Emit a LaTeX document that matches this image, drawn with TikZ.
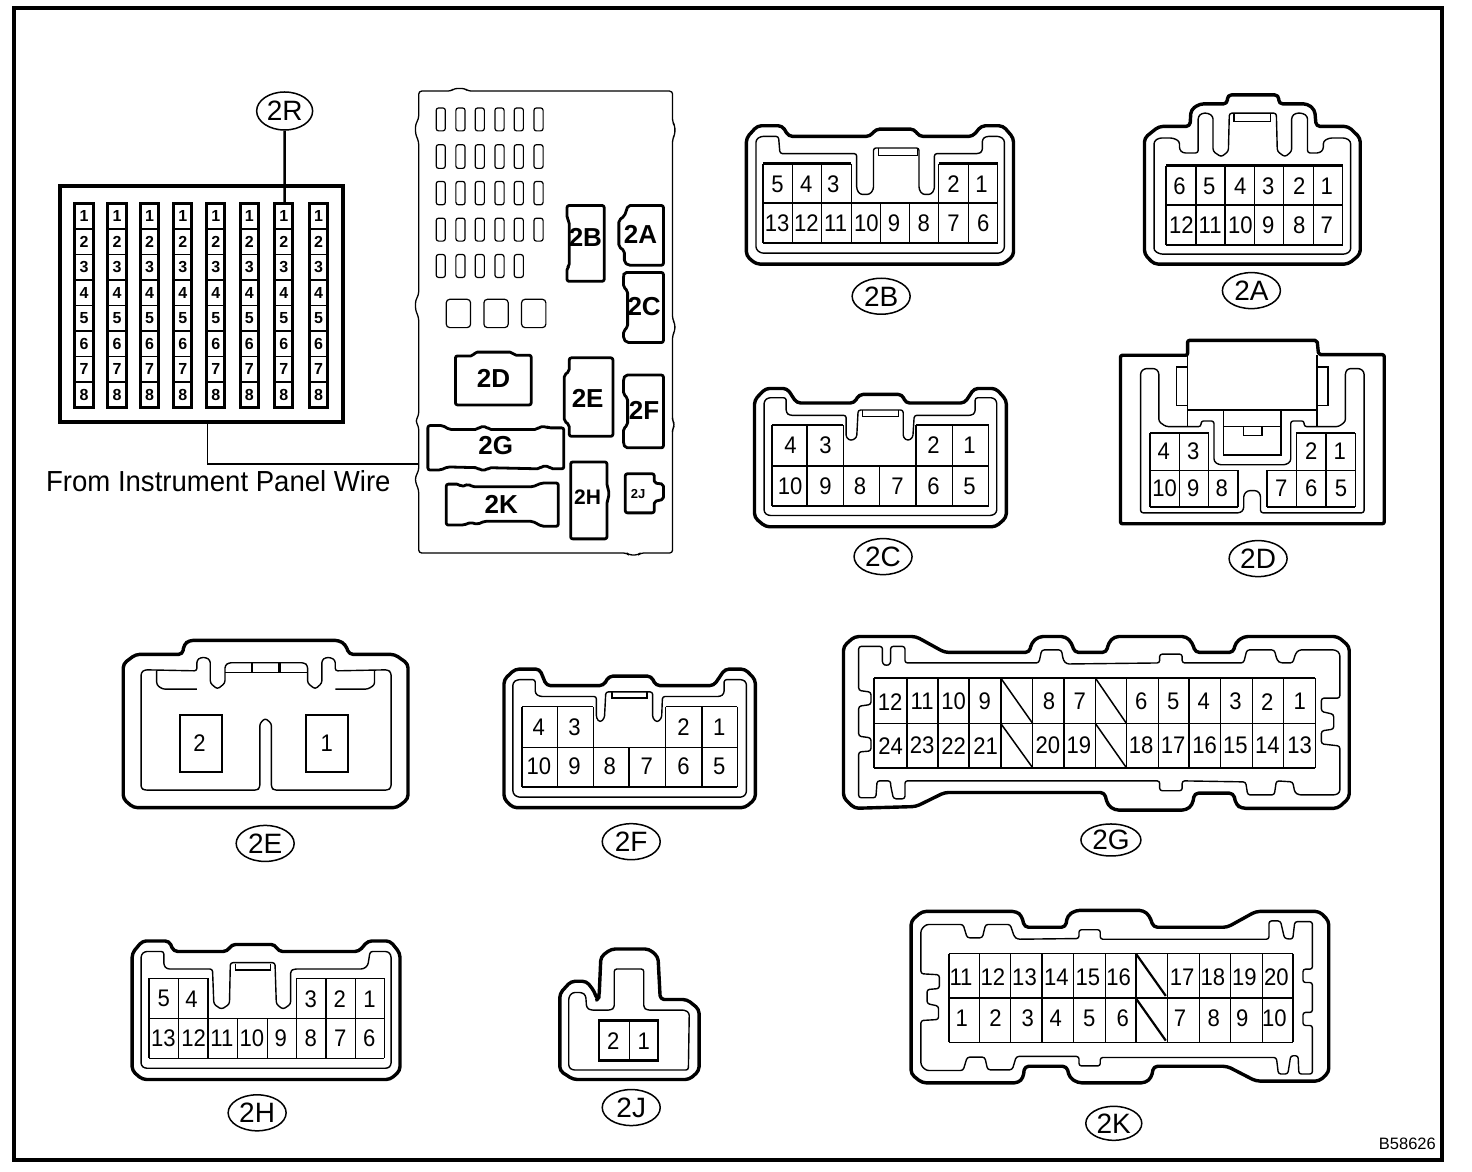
\documentclass[tikz,border=0pt]{standalone}
\usepackage{fontspec}
\usetikzlibrary{shapes.geometric}
\setmainfont{Liberation Sans}
\newfontfamily\pinfont[FakeStretch=0.92]{Liberation Sans}
\newfontfamily\wirefont[FakeStretch=0.95]{Liberation Sans}
\newcommand{\fsz}[1]{\fontsize{#1}{#1}\selectfont}
\tikzset{
  zone1/.style={shift={(0,0)},xscale=1/2.178,yscale=1/2.613},
  zone2/.style={shift={(720,80)},xscale=1/2.085,yscale=1/3.015},
  zone3/.style={shift={(100,620)},xscale=1/2.24,yscale=1/2.851},
  zone4/.style={shift={(830,620)},xscale=1/2.442,yscale=1/2.841},
  shell/.style={line width=3.4pt,line join=round,rounded corners=4pt},
  liner/.style={line width=1.4pt,line join=round,rounded corners=2.5pt},
  cellline/.style={line width=1.5pt},
  cellbold/.style={line width=2.2pt},
  pinlabel/.style={inner sep=0pt,font=\pinfont\fsz{24}},
  fusepin/.style={inner sep=0pt,font=\bfseries\fsz{16}},
  tag/.style={draw,ellipse,line width=1.5pt,inner sep=0pt,minimum width=58pt,minimum height=36pt,font=\fsz{28}},
  minibox/.style={line width=2.8pt,line join=round,rounded corners=2pt},
  minitext/.style={inner sep=0pt,font=\bfseries\fsz{26}},
  slot/.style={line width=1.2pt,rounded corners=2.5pt},
}
\newcommand{\pinrow}[3]{\foreach \x/\t in {#3}{\node[pinlabel] (#1-\t) at (\x,#2) {\t};}}
\newcommand{\vlines}[3]{\foreach \x in {#3}{\draw[cellline] (\x,#1) -- (\x,#2);}}
\begin{document}
\begin{tikzpicture}[x=1pt,y=-1pt]
\useasboundingbox (0,0) rectangle (1472,1172);
\fill[white] (0,0) rectangle (1472,1172);
\draw[line width=4.5pt] (14,8) rectangle (1442,1160);

%% ---------- left part ----------
\begin{scope}[zone1]
  \draw[line width=3.8pt] (130,487) rectangle (747,1103);
  \foreach \cx/\c in {183/a,255/b,326/c,398/d,470/e,543/f,618/g,694/h}{
    \draw[line width=3pt] (\cx-20,532) rectangle (\cx+20,1065);
    \foreach \n in {1,...,7}{\draw[cellline] (\cx-20,532+66.6*\n) -- (\cx+20,532+66.6*\n);}
    \foreach \n in {1,...,8}{\node[fusepin] (f\c-\n) at (\cx,498+66.6*\n) {\n};}
  }
  \node[tag,minimum width=56pt,minimum height=38pt] (tag2R) at (620,290) {2R};
  \coordinate (r7) at (620,532);
  \coordinate (wirestart) at (452,1103);
  \coordinate (wireend) at (912,1212);
  \draw[line width=2.6pt] (tag2R) -- (r7);
  \draw[line width=1.5pt] (wirestart) |- (wireend);
  \node[inner sep=0pt,anchor=west,font=\wirefont\fsz{29}] (wirelabel) at (100,1258) {From Instrument Panel Wire};

  % fuse box outline
  \draw[line width=1.3pt,rounded corners=3pt]
    (928,238) -- (982,238) -- (990,231) -- (1012,231) -- (1020,238) -- (1465,238)
    -- (1465,320) -- (1470,328) -- (1470,352) -- (1465,362) -- (1465,835) -- (1470,845)
    -- (1470,865) -- (1465,875) -- (1465,1100) -- (1470,1110) -- (1465,1120) -- (1465,1445)
    -- (1395,1445) -- (1390,1450) -- (1370,1450) -- (1365,1445) -- (912,1445) -- (912,1280)
    -- (905,1260) -- (905,1245) -- (912,1230) -- (912,1115) -- (905,1100) -- (912,1085)
    -- (912,830) -- (905,810) -- (905,785) -- (912,770) -- (912,370) -- (905,350)
    -- (905,325) -- (912,310) -- (912,238) -- cycle;
  \foreach \ya/\yb in {282/342,378/440,474/535,570/630}{
    \foreach \xa in {950,993,1035,1078,1120,1163}{
      \draw[slot] (\xa,\ya) rectangle (\xa+20,\yb);}}
  \foreach \xa in {950,993,1035,1078,1120}{\draw[slot] (\xa,665) rectangle (\xa+20,725);}
  \foreach \xa in {972,1054,1136}{\draw[slot,rounded corners=3.5pt] (\xa,782) rectangle (\xa+53,856);}

  \draw[minibox] (1235,537) -- (1316,537) -- (1316,735) -- (1235,735) -- (1235,700) -- (1240,695) -- (1240,580) -- (1235,570) -- cycle;
  \node[minitext] (m2B) at (1275,620) {2B};
  \draw[minibox] (1368,537) -- (1445,537) -- (1445,693) -- (1368,693) -- (1360,685) -- (1360,655) -- (1348,645) -- (1348,575) -- (1360,565) -- cycle;
  \node[minitext] (m2A) at (1395,613) {2A};
  \draw[minibox] (1360,712) -- (1445,712) -- (1445,895) -- (1365,895) -- (1358,885) -- (1358,865) -- (1367,855) -- (1367,760) -- (1358,750) -- (1358,720) -- cycle;
  \node[minitext] (m2C) at (1403,800) {2C};
  \draw[minibox] (992,930) -- (1030,930) -- (1035,920) -- (1115,920) -- (1120,928) -- (1157,928) -- (1157,1058) -- (992,1058) -- cycle;
  \node[minitext] (m2D) at (1075,990) {2D};
  \draw[minibox] (1240,935) -- (1335,935) -- (1335,1140) -- (1240,1140) -- (1240,1110) -- (1229,1100) -- (1229,980) -- (1240,970) -- cycle;
  \node[minitext] (m2E) at (1280,1040) {2E};
  \draw[minibox] (1362,980) -- (1445,980) -- (1445,1170) -- (1362,1170) -- (1358,1160) -- (1358,1120) -- (1367,1110) -- (1367,1040) -- (1358,1030) -- (1358,990) -- cycle;
  \node[minitext] (m2F) at (1403,1072) {2F};
  \draw[minibox] (932,1112) -- (965,1112) -- (978,1122) -- (1040,1122) -- (1045,1115) -- (1060,1115) -- (1065,1122) -- (1170,1122) -- (1175,1115) -- (1190,1115) -- (1195,1118) -- (1228,1118) -- (1228,1225) -- (1200,1225) -- (1195,1218) -- (1180,1218) -- (1175,1225) -- (1065,1222) -- (1060,1228) -- (1045,1228) -- (1040,1222) -- (975,1220) -- (960,1228) -- (932,1228) -- cycle;
  \node[minitext] (m2G) at (1080,1165) {2G};
  \draw[minibox] (972,1265) -- (1000,1265) -- (1005,1272) -- (1020,1265) -- (1030,1272) -- (1160,1272) -- (1180,1262) -- (1216,1262) -- (1216,1375) -- (1180,1375) -- (1160,1362) -- (1055,1362) -- (1040,1370) -- (1025,1365) -- (1010,1372) -- (972,1372) -- cycle;
  \node[minitext] (m2K) at (1092,1318) {2K};
  \draw[minibox] (1243,1207) -- (1322,1207) -- (1322,1270) -- (1326,1280) -- (1326,1300) -- (1322,1310) -- (1322,1408) -- (1243,1408) -- cycle;
  \node[minitext,font=\bfseries\fsz{21}] (m2H) at (1280,1298) {2H};
  \draw[minibox] (1362,1238) -- (1425,1238) -- (1425,1262) -- (1445,1265) -- (1445,1305) -- (1425,1310) -- (1425,1340) -- (1362,1340) -- cycle;
  \node[minitext,font=\bfseries\fsz{13}] (m2J) at (1390,1290) {2J};
\end{scope}

%% ---------- 2B 2A 2C 2D ----------
\begin{scope}[zone2]
  % 2B
  \draw[shell] (75,555) -- (590,555) -- (612,530) -- (612,175) -- (590,138) -- (545,138) -- (527,170) -- (415,170) -- (405,148) -- (325,148) -- (313,170) -- (143,170) -- (130,138) -- (78,138) -- (55,175) -- (55,530) -- cycle;
  \draw[liner] (75,180) -- (75,510) -- (85,522) -- (585,522) -- (593,510) -- (593,180) -- (583,170) -- (555,170) -- (547,178) -- (547,215) -- (540,222) -- (447,222) -- (447,330) -- (440,345) -- (422,345) -- (415,330) -- (415,205) -- (320,205) -- (320,330) -- (312,345) -- (292,345) -- (285,330) -- (285,222) -- (125,222) -- (122,170) -- (85,170) -- cycle;
  \draw[cellline] (330,205) -- (330,228) -- (412,228) -- (412,205);
  \draw[cellbold] (90,252) -- (274,252) (456,252) -- (579,252) (90,372) -- (579,372) (90,492) -- (579,492);
  \vlines{252}{492}{90,151,212,274,456,518,579}
  \vlines{372}{492}{335,395}
  \pinrow{pB}{315}{120/5,180/4,236/3,487/2,545/1}
  \pinrow{pB}{433}{119/13,180/12,241/11,305/10,363/9,425/8,487/7,549/6}
  \node[tag] (tag2B) at (336,652) {2B};
  % 2A
  \draw[shell] (905,555) -- (1310,555) -- (1335,525) -- (1335,175) -- (1310,140) -- (1243,140) -- (1240,90) -- (1225,72) -- (1165,72) -- (1165,45) -- (1058,45) -- (1058,72) -- (1000,72) -- (982,90) -- (980,140) -- (915,140) -- (885,175) -- (885,525) -- cycle;
  \draw[liner] (905,185) -- (905,515) -- (918,525) -- (1305,525) -- (1315,515) -- (1315,185) -- (1305,175) -- (1270,175) -- (1258,185) -- (1258,210) -- (1250,220) -- (1225,220) -- (1225,110) -- (1215,100) -- (1200,100) -- (1192,110) -- (1192,215) -- (1178,232) -- (1162,215) -- (1160,100) -- (1062,100) -- (1060,215) -- (1045,232) -- (1028,215) -- (1028,110) -- (1018,100) -- (1005,100) -- (997,110) -- (997,220) -- (965,220) -- (958,210) -- (958,185) -- (945,175) -- (915,175) -- cycle;
  \draw[cellline] (1072,103) -- (1072,125) -- (1148,125) -- (1148,103);
  \draw[cellbold] (930,258) -- (1298,258) (930,378) -- (1298,378) (930,498) -- (1298,498);
  \vlines{258}{498}{930,992,1053,1114,1175,1237,1298}
  \pinrow{pA}{320}{958/6,1020/5,1085/4,1143/3,1208/2,1265/1}
  \pinrow{pA}{438}{962/12,1022/11,1085/10,1143/9,1208/8,1265/7}
  \node[tag] (tag2A) at (1108,635) {2A};
  % 2C
  \draw[shell] (95,1347) -- (575,1347) -- (597,1319) -- (597,965) -- (575,930) -- (530,930) -- (510,974) -- (387,974) -- (380,948) -- (290,948) -- (280,974) -- (160,974) -- (140,930) -- (95,930) -- (72,965) -- (72,1319) -- cycle;
  \draw[liner] (92,968) -- (92,1304) -- (100,1313) -- (568,1313) -- (577,1304) -- (577,968) -- (570,958) -- (532,958) -- (532,1003) -- (525,1011) -- (405,1011) -- (402,1078) -- (392,1088) -- (382,1078) -- (382,995) -- (288,995) -- (285,1078) -- (273,1088) -- (263,1078) -- (263,1011) -- (145,1011) -- (138,1003) -- (138,958) -- (100,958) -- cycle;
  \draw[cellline] (297,995) -- (297,1015) -- (372,1015) -- (372,995);
  \draw[cellbold] (108,1040) -- (257,1040) (409,1040) -- (560,1040) (108,1163) -- (560,1163) (108,1284) -- (560,1284);
  \vlines{1040}{1284}{108,181,257,409,485,560}
  \vlines{1163}{1284}{333}
  \pinrow{pC}{1102}{147/4,220/3,445/2,520/1}
  \pinrow{pC}{1224}{146/10,220/9,292/8,370/7,445/6,520/5}
  \node[tag] (tag2C) at (340,1437) {2C};
  % 2D
  \draw[line width=3.4pt,line join=round,rounded corners=2pt] (835,830) -- (975,830) -- (975,785) -- (1245,785) -- (1248,828) -- (1385,828) -- (1385,1338) -- (835,1338) -- cycle;
  \draw[cellline] (975,830) -- (975,1045) (1245,830) -- (1245,1045);
  \draw[cellbold] (975,995) -- (1245,995);
  \draw[cellline] (975,865) -- (952,865) -- (952,982) -- (975,982) (1245,865) -- (1268,865) -- (1268,982) -- (1245,982);
  \draw[liner] (877,880) -- (877,1305) -- (1085,1305) -- (1092,1295) -- (1092,1250) -- (1100,1238) -- (1120,1238) -- (1127,1250) -- (1127,1305) -- (1343,1305) -- (1343,880) -- (1335,870) -- (1310,870) -- (1304,880) -- (1304,1030) -- (1290,1045) -- (1218,1045) -- (1218,1028) -- (1190,1028) -- (1190,1150) -- (1180,1160) -- (1040,1160) -- (1030,1150) -- (1030,1028) -- (1003,1028) -- (1003,1045) -- (930,1045) -- (915,1030) -- (915,880) -- (908,870) -- (885,870) -- cycle;
  \draw[cellline] (1050,995) -- (1050,1130) -- (1170,1130) -- (1170,995) (1050,1045) -- (1170,1045) (1092,1045) -- (1092,1072) -- (1130,1072) -- (1130,1045);
  \draw[cellline] (897,1065) -- (1019,1065) (897,1177) -- (1080,1177) (897,1288) -- (1080,1288) (1202,1065) -- (1325,1065) (1141,1177) -- (1325,1177) (1141,1288) -- (1325,1288);
  \vlines{1065}{1288}{897,958,1202,1264,1325}
  \vlines{1065}{1177}{1019}
  \vlines{1177}{1288}{1019,1080,1141}
  \pinrow{pD}{1120}{925/4,987/3,1233/2,1292/1}
  \pinrow{pD}{1232}{927/10,987/9,1046/8,1170/7,1233/6,1295/5}
  \node[tag] (tag2D) at (1122,1443) {2D};
\end{scope}

%% ---------- 2E 2F 2H 2J ----------
\begin{scope}[zone3]
  % 2E
  \draw[shell] (75,535) -- (665,535) -- (690,510) -- (690,125) -- (660,98) -- (558,98) -- (550,70) -- (535,58) -- (200,58) -- (188,70) -- (185,98) -- (80,98) -- (52,125) -- (52,510) -- cycle;
  \draw[liner] (92,150) -- (92,480) -- (100,485) -- (352,485) -- (358,478) -- (358,295) -- (370,280) -- (384,295) -- (384,478) -- (390,485) -- (645,485) -- (652,478) -- (652,150) -- (645,142) -- (527,145) -- (527,115) -- (517,107) -- (505,107) -- (497,115) -- (497,180) -- (482,197) -- (465,180) -- (465,130) -- (458,122) -- (288,122) -- (280,130) -- (280,180) -- (263,197) -- (247,180) -- (247,115) -- (238,107) -- (225,107) -- (217,115) -- (217,145) -- (100,142) -- cycle;
  \draw[cellline] (280,150) -- (465,150);
  \draw[cellbold] (340,122) -- (340,150) (402,122) -- (402,150);
  \draw[liner] (127,145) -- (127,185) -- (140,197) -- (217,197) (527,197) -- (600,197) -- (615,185) -- (615,145);
  \draw[cellbold] (180,270) rectangle (273,433) (462,270) rectangle (555,433);
  \node[pinlabel] (pE-2) at (223,352) {2};
  \node[pinlabel] (pE-1) at (508,352) {1};
  \node[tag] (tag2E) at (370,637) {2E};
  % 2F
  \draw[shell] (925,535) -- (1445,535) -- (1468,510) -- (1468,170) -- (1445,140) -- (1400,140) -- (1375,187) -- (1245,187) -- (1235,160) -- (1140,160) -- (1128,187) -- (1000,187) -- (985,140) -- (930,140) -- (905,170) -- (905,510) -- cycle;
  \draw[liner] (925,178) -- (925,495) -- (935,505) -- (1440,505) -- (1448,495) -- (1448,178) -- (1440,170) -- (1398,170) -- (1398,210) -- (1390,218) -- (1260,218) -- (1258,280) -- (1248,292) -- (1238,280) -- (1238,205) -- (1133,205) -- (1130,280) -- (1120,292) -- (1112,280) -- (1112,218) -- (985,218) -- (975,210) -- (975,170) -- (935,170) -- cycle;
  \draw[cellline] (1147,205) -- (1147,222) -- (1225,222) -- (1225,205);
  \draw[cellline] (945,247) -- (1105,247) (1267,247) -- (1428,247) (945,363) -- (1428,363);
  \draw[line width=2.6pt] (945,476) -- (1428,476);
  \vlines{247}{476}{945,1025,1105,1267,1349,1428}
  \vlines{363}{476}{1185}
  \pinrow{pF}{305}{983/4,1063/3,1307/2,1387/1}
  \pinrow{pF}{418}{983/10,1063/9,1142/8,1225/7,1307/6,1387/5}
  \node[tag] (tag2F) at (1190,632) {2F};
  % 2H
  \draw[shell] (95,1310) -- (650,1310) -- (672,1285) -- (672,950) -- (650,915) -- (600,915) -- (580,945) -- (400,945) -- (392,925) -- (295,925) -- (285,945) -- (165,945) -- (155,915) -- (95,915) -- (72,950) -- (72,1285) -- cycle;
  \draw[liner] (92,955) -- (92,1270) -- (100,1278) -- (645,1278) -- (652,1270) -- (652,955) -- (645,945) -- (605,945) -- (600,985) -- (590,995) -- (435,995) -- (427,1000) -- (427,1095) -- (410,1110) -- (395,1095) -- (392,977) -- (292,977) -- (290,1095) -- (272,1110) -- (255,1095) -- (252,995) -- (150,995) -- (143,985) -- (143,945) -- (100,945) -- cycle;
  \draw[cellline] (303,980) -- (303,998) -- (382,998) -- (382,980);
  \draw[cellline] (110,1022) -- (242,1022) (440,1022) -- (637,1022) (110,1136) -- (637,1136) (110,1250) -- (637,1250);
  \vlines{1022}{1250}{110,176,242,440,506,572,637}
  \vlines{1136}{1250}{308,375}
  \pinrow{pH}{1080}{143/5,205/4,472/3,537/2,604/1}
  \pinrow{pH}{1193}{142/13,210/12,273/11,340/10,405/9,472/8,538/7,603/6}
  \node[tag] (tag2H) at (352,1405) {2H};
  % 2J
  \draw[shell] (1060,1310) -- (1320,1310) -- (1342,1285) -- (1342,1110) -- (1315,1082) -- (1255,1082) -- (1250,960) -- (1230,938) -- (1145,938) -- (1122,960) -- (1118,1075) -- (1113,1083) -- (1108,1060) -- (1090,1030) -- (1055,1030) -- (1030,1065) -- (1030,1285) -- cycle;
  \draw[liner] (1050,1075) -- (1050,1275) -- (1058,1283) -- (1318,1283) -- (1320,1120) -- (1310,1112) -- (1225,1112) -- (1218,1105) -- (1218,995) -- (1152,995) -- (1152,1105) -- (1145,1112) -- (1098,1112) -- (1090,1105) -- (1088,1070) -- (1080,1062) -- (1058,1062) -- cycle;
  \draw[cellbold] (1118,1142) rectangle (1250,1256);
  \draw[cellline] (1186,1142) -- (1186,1256);
  \node[pinlabel] (pJ-2) at (1150,1200) {2};
  \node[pinlabel] (pJ-1) at (1218,1200) {1};
  \node[tag] (tag2J) at (1190,1390) {2J};
\end{scope}

%% ---------- 2G 2K ----------
\begin{scope}[zone4]
  % 2G
  \draw[shell] (60,535) -- (210,530) -- (280,490) -- (670,490) -- (678,525) -- (695,540) -- (870,540) -- (885,525) -- (890,492) -- (985,492) -- (992,525) -- (1005,535) -- (1240,535) -- (1268,505) -- (1268,75) -- (1240,47) -- (1010,47) -- (990,65) -- (985,92) -- (892,92) -- (885,65) -- (870,47) -- (695,47) -- (680,65) -- (675,92) -- (597,92) -- (590,65) -- (575,47) -- (510,47) -- (492,65) -- (487,92) -- (280,92) -- (210,47) -- (60,47) -- (33,75) -- (33,505) -- cycle;
  \draw[liner] (70,75) -- (128,75) -- (128,125) -- (138,130) -- (148,125) -- (148,75) -- (183,75) -- (183,122) -- (510,122) -- (517,85) -- (565,85) -- (570,115) -- (578,125) -- (805,122) -- (805,97) -- (860,97) -- (860,122) -- (1010,122) -- (1018,85) -- (1085,85) -- (1092,115) -- (1100,122) -- (1130,122) -- (1137,95) -- (1145,85) -- (1235,85) -- (1245,95) -- (1245,222) -- (1200,222) -- (1200,260) -- (1230,268) -- (1230,310) -- (1200,315) -- (1200,352) -- (1245,358) -- (1245,490) -- (1235,497) -- (1145,497) -- (1135,490) -- (1130,460) -- (1090,457) -- (1085,497) -- (1020,497) -- (1015,460) -- (860,457) -- (860,485) -- (805,485) -- (805,457) -- (183,457) -- (183,508) -- (155,508) -- (148,470) -- (148,457) -- (115,457) -- (112,505) -- (70,505) -- (70,375) -- (100,372) -- (100,335) -- (70,330) -- (70,245) -- (100,240) -- (100,205) -- (70,200) -- cycle;
  \draw[cellbold] (108,165) -- (1185,165) (108,420) -- (1185,420);
  \draw[cellline] (108,294) -- (1185,294);
  \vlines{165}{420}{108,188,264,340,417,495,572,648,724,802,877,954,1032,1108,1185}
  \draw[cellline] (417,165) -- (495,294) (417,294) -- (495,420) (648,165) -- (724,294) (648,294) -- (724,420);
  \pinrow{pG}{232}{147/12,225/11,302/10,378/9,535/8,610/7,760/6,838/5,913/4,990/3,1068/2,1147/1}
  \pinrow{pG}{357}{148/24,225/23,302/22,380/21,532/20,608/19,760/18,838/17,915/16,990/15,1068/14,1147/13}
  \node[tag,minimum width=60pt,minimum height=32pt] (tag2G) at (686,625) {2G};
  % 2K
  \draw[shell] (225,1315) -- (460,1315) -- (472,1300) -- (475,1268) -- (578,1268) -- (585,1300) -- (605,1315) -- (770,1315) -- (785,1300) -- (790,1268) -- (970,1268) -- (1040,1310) -- (1195,1310) -- (1218,1285) -- (1218,855) -- (1195,828) -- (1040,828) -- (970,873) -- (790,873) -- (780,840) -- (765,825) -- (600,825) -- (580,840) -- (575,873) -- (475,873) -- (468,840) -- (455,828) -- (225,828) -- (198,855) -- (198,1290) -- cycle;
  \draw[liner] (222,880) -- (235,865) -- (325,865) -- (335,903) -- (372,903) -- (380,865) -- (440,865) -- (450,900) -- (458,907) -- (608,905) -- (608,880) -- (660,880) -- (660,907) -- (1072,907) -- (1072,855) -- (1100,855) -- (1110,905) -- (1130,907) -- (1135,857) -- (1178,857) -- (1178,992) -- (1155,992) -- (1155,1030) -- (1178,1030) -- (1178,1115) -- (1155,1115) -- (1155,1152) -- (1178,1152) -- (1178,1290) -- (1145,1290) -- (1143,1238) -- (1125,1238) -- (1118,1290) -- (1095,1290) -- (1090,1243) -- (660,1243) -- (660,1267) -- (608,1267) -- (608,1240) -- (455,1240) -- (445,1278) -- (385,1278) -- (378,1242) -- (335,1242) -- (325,1280) -- (235,1280) -- (222,1265) -- (222,1138) -- (265,1135) -- (265,1097) -- (237,1090) -- (237,1050) -- (267,1047) -- (267,1008) -- (222,1005) -- cycle;
  \draw[cellline] (290,948) -- (1131,948) (290,1200) -- (1131,1200);
  \draw[cellbold] (290,1075) -- (1131,1075);
  \vlines{948}{1200}{290,365,441,518,594,673,747,824,902,978,1056,1131}
  \draw[cellbold] (747,948) -- (820,1068) (747,1075) -- (820,1195);
  \pinrow{pK}{1015}{320/11,398/12,475/13,553/14,630/15,705/16,860/17,935/18,1012/19,1090/20}
  \pinrow{pK}{1132}{322/1,404/2,483/3,551/4,633/5,715/6,855/7,937/8,1007/9,1085/10}
  \node[tag,minimum width=56pt,minimum height=34pt] (tag2K) at (693,1430) {2K};
  \node[inner sep=0pt,font=\fsz{16.5}] (code) at (1410,1488) {B58626};
\end{scope}
\end{tikzpicture}
\end{document}
